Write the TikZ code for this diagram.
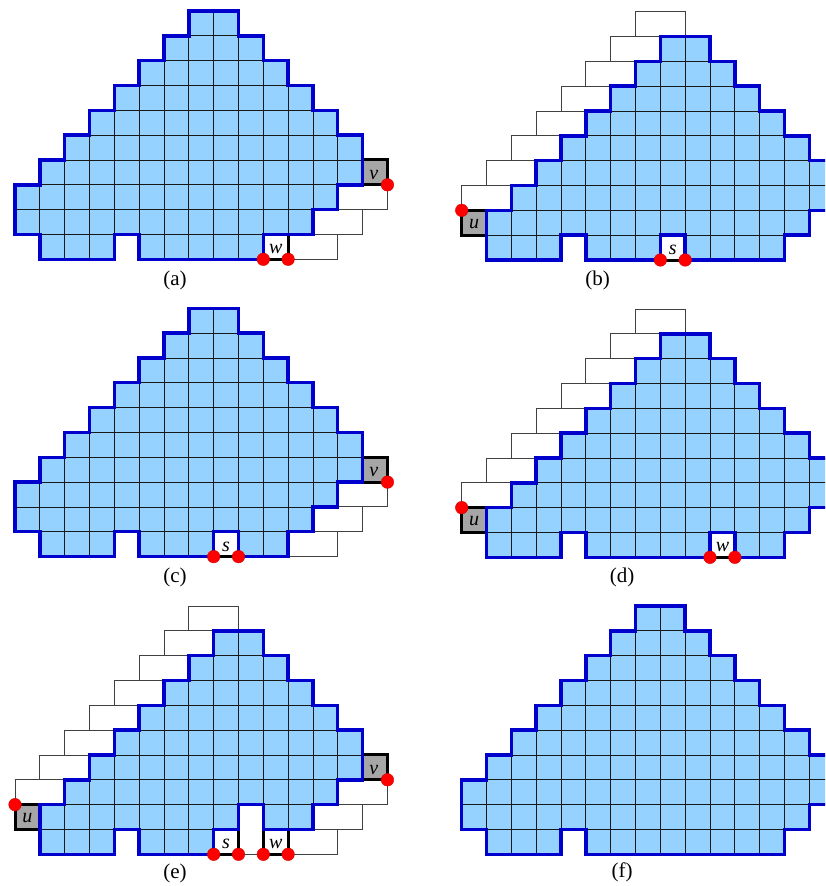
\documentclass[tikz,border=0pt]{standalone}
\usepackage{fontspec}
\setmainfont{Liberation Serif}
\definecolor{lblue}{RGB}{150,210,255}
\definecolor{dblue}{RGB}{0,0,204}
\definecolor{gcell}{RGB}{166,166,166}

% region outlines in grid units (col,row), rows counted downward
\newcommand\regA{(7,0) -- (9,0) -- (9,1) -- (10,1) -- (10,2) -- (11,2) -- (11,3) -- (12,3) -- (12,4) -- (13,4) -- (13,5) -- (14,5) -- (14,7) -- (13,7) -- (13,8) -- (12,8) -- (12,9) -- (10,9) -- (10,10) -- (5,10) -- (5,9) -- (4,9) -- (4,10) -- (1,10) -- (1,9) -- (0,9) -- (0,7) -- (1,7) -- (1,6) -- (2,6) -- (2,5) -- (3,5) -- (3,4) -- (4,4) -- (4,3) -- (5,3) -- (5,2) -- (6,2) -- (6,1) -- (7,1) -- cycle}
\newcommand\regC{(7,0) -- (9,0) -- (9,1) -- (10,1) -- (10,2) -- (11,2) -- (11,3) -- (12,3) -- (12,4) -- (13,4) -- (13,5) -- (14,5) -- (14,7) -- (13,7) -- (13,8) -- (12,8) -- (12,9) -- (11,9) -- (11,10) -- (9,10) -- (9,9) -- (8,9) -- (8,10) -- (5,10) -- (5,9) -- (4,9) -- (4,10) -- (1,10) -- (1,9) -- (0,9) -- (0,7) -- (1,7) -- (1,6) -- (2,6) -- (2,5) -- (3,5) -- (3,4) -- (4,4) -- (4,3) -- (5,3) -- (5,2) -- (6,2) -- (6,1) -- (7,1) -- cycle}
\newcommand\regB{(8,1) -- (10,1) -- (10,2) -- (11,2) -- (11,3) -- (12,3) -- (12,4) -- (13,4) -- (13,5) -- (14,5) -- (14,6) -- (15,6) -- (15,8) -- (14,8) -- (14,9) -- (13,9) -- (13,10) -- (9,10) -- (9,9) -- (8,9) -- (8,10) -- (5,10) -- (5,9) -- (4,9) -- (4,10) -- (1,10) -- (1,8) -- (2,8) -- (2,7) -- (3,7) -- (3,6) -- (4,6) -- (4,5) -- (5,5) -- (5,4) -- (6,4) -- (6,3) -- (7,3) -- (7,2) -- (8,2) -- cycle}
\newcommand\regD{(8,1) -- (10,1) -- (10,2) -- (11,2) -- (11,3) -- (12,3) -- (12,4) -- (13,4) -- (13,5) -- (14,5) -- (14,6) -- (15,6) -- (15,8) -- (14,8) -- (14,9) -- (13,9) -- (13,10) -- (11,10) -- (11,9) -- (10,9) -- (10,10) -- (5,10) -- (5,9) -- (4,9) -- (4,10) -- (1,10) -- (1,8) -- (2,8) -- (2,7) -- (3,7) -- (3,6) -- (4,6) -- (4,5) -- (5,5) -- (5,4) -- (6,4) -- (6,3) -- (7,3) -- (7,2) -- (8,2) -- cycle}
\newcommand\regE{(8,1) -- (10,1) -- (10,2) -- (11,2) -- (11,3) -- (12,3) -- (12,4) -- (13,4) -- (13,5) -- (14,5) -- (14,7) -- (13,7) -- (13,8) -- (12,8) -- (12,9) -- (10,9) -- (10,8) -- (9,8) -- (9,9) -- (8,9) -- (8,10) -- (5,10) -- (5,9) -- (4,9) -- (4,10) -- (1,10) -- (1,8) -- (2,8) -- (2,7) -- (3,7) -- (3,6) -- (4,6) -- (4,5) -- (5,5) -- (5,4) -- (6,4) -- (6,3) -- (7,3) -- (7,2) -- (8,2) -- cycle}
\newcommand\regF{(7,0) -- (9,0) -- (9,1) -- (10,1) -- (10,2) -- (11,2) -- (11,3) -- (12,3) -- (12,4) -- (13,4) -- (13,5) -- (14,5) -- (14,6) -- (15,6) -- (15,8) -- (14,8) -- (14,9) -- (13,9) -- (13,10) -- (5,10) -- (5,9) -- (4,9) -- (4,10) -- (1,10) -- (1,9) -- (0,9) -- (0,7) -- (1,7) -- (1,6) -- (2,6) -- (2,5) -- (3,5) -- (3,4) -- (4,4) -- (4,3) -- (5,3) -- (5,2) -- (6,2) -- (6,1) -- (7,1) -- cycle}

\tikzset{
  gridln/.style={draw=black!90, line width=0.8pt},
  blueln/.style={draw=dblue, line width=3.4pt, line join=miter},
  dom/.style={draw=black!75, line width=0.9pt},
  graybox/.style={fill=gcell, draw=black, line width=3pt},
  whitebox/.style={fill=white, draw=black, line width=3pt},
  rdot/.style={circle, fill=red, draw=red!85!black, line width=0.4pt, inner sep=0pt, minimum size=12.6pt},
  lbl/.style={font=\fontsize{20}{22}\selectfont\itshape, inner sep=0pt},
  captxt/.style={font=\fontsize{21}{24}\selectfont, inner sep=0pt},
  panel/.style={x=24.83pt, y=-24.83pt},
}

\newcommand\basefill[1]{%
  \fill[lblue] #1;
  \begin{scope}
    \clip #1;
    \foreach \i in {0,...,16} {\draw[gridln] (\i,0) -- (\i,10);}
    \foreach \j in {0,...,10} {\draw[gridln] (0,\j) -- (16,\j);}
  \end{scope}}
\newcommand\ulDominoes{\foreach \k in {0,...,7} {\draw[dom] ({7-\k},\k) rectangle ({9-\k},{\k+1});}}
\newcommand\rtDominoes{\draw[dom] (13,7) rectangle (15,8); \draw[dom] (12,8) rectangle (14,9); \draw[dom] (11,9) rectangle (13,10);}

\begin{document}
\begin{tikzpicture}
\useasboundingbox (0pt,0pt) rectangle (825pt,-886pt);
\clip (0pt,0pt) rectangle (825pt,-886pt);

% (a)
\begin{scope}[shift={(15pt,-11pt)}, panel]
  \basefill{\regA}
  \rtDominoes
  \draw[graybox] (14,6) rectangle (15,7);
  \draw[whitebox] (10,9) rectangle (11,10);
  \draw[blueln] \regA;
  \node[lbl] (av) at (14.45,6.6) {v};
  \node[lbl] (aw) at (10.5,9.6) {w};
  \node[rdot] (ad1) at (15,7) {};
  \node[rdot] (ad2) at (10,10) {};
  \node[rdot] (ad3) at (11,10) {};
\end{scope}
\node[captxt] (capa) at (175pt,-280pt) {(a)};

% (b)
\begin{scope}[shift={(461.7pt,-11.7pt)}, panel]
  \basefill{\regB}
  \ulDominoes
  \draw[graybox] (0,8) rectangle (1,9);
  \draw[whitebox] (8,9) rectangle (9,10);
  \draw[blueln] \regB;
  \node[lbl] (bu) at (0.5,8.55) {u};
  \node[lbl] (bs) at (8.5,9.6) {s};
  \node[rdot] (bd1) at (0,8) {};
  \node[rdot] (bd2) at (8,10) {};
  \node[rdot] (bd3) at (9,10) {};
\end{scope}
\node[captxt] (capb) at (597.5pt,-280pt) {(b)};

% (c)
\begin{scope}[shift={(15pt,-308.3pt)}, panel]
  \basefill{\regC}
  \rtDominoes
  \draw[graybox] (14,6) rectangle (15,7);
  \draw[whitebox] (8,9) rectangle (9,10);
  \draw[blueln] \regC;
  \node[lbl] (cv) at (14.45,6.6) {v};
  \node[lbl] (cs) at (8.5,9.6) {s};
  \node[rdot] (cd1) at (15,7) {};
  \node[rdot] (cd2) at (8,10) {};
  \node[rdot] (cd3) at (9,10) {};
\end{scope}
\node[captxt] (capc) at (175pt,-577pt) {(c)};

% (d)
\begin{scope}[shift={(461.7pt,-309pt)}, panel]
  \basefill{\regD}
  \ulDominoes
  \draw[graybox] (0,8) rectangle (1,9);
  \draw[whitebox] (10,9) rectangle (11,10);
  \draw[blueln] \regD;
  \node[lbl] (du) at (0.5,8.55) {u};
  \node[lbl] (dw) at (10.5,9.6) {w};
  \node[rdot] (dd1) at (0,8) {};
  \node[rdot] (dd2) at (10,10) {};
  \node[rdot] (dd3) at (11,10) {};
\end{scope}
\node[captxt] (capd) at (622pt,-577pt) {(d)};

% (e)
\begin{scope}[shift={(15pt,-606pt)}, panel]
  \basefill{\regE}
  \ulDominoes
  \rtDominoes
  \draw[dom] (9,8) rectangle (10,10);
  \draw[graybox] (0,8) rectangle (1,9);
  \draw[graybox] (14,6) rectangle (15,7);
  \draw[whitebox] (8,9) rectangle (9,10);
  \draw[whitebox] (10,9) rectangle (11,10);
  \draw[blueln] \regE;
  \node[lbl] (eu) at (0.5,8.55) {u};
  \node[lbl] (ev) at (14.45,6.6) {v};
  \node[lbl] (es) at (8.5,9.6) {s};
  \node[lbl] (ew) at (10.5,9.6) {w};
  \node[rdot] (ed1) at (0,8) {};
  \node[rdot] (ed2) at (15,7) {};
  \node[rdot] (ed3) at (8,10) {};
  \node[rdot] (ed4) at (9,10) {};
  \node[rdot] (ed5) at (10,10) {};
  \node[rdot] (ed6) at (11,10) {};
\end{scope}
\node[captxt] (cape) at (175pt,-873pt) {(e)};

% (f)
\begin{scope}[shift={(461.7pt,-606pt)}, panel]
  \basefill{\regF}
  \draw[blueln] \regF;
\end{scope}
\node[captxt] (capf) at (622pt,-872pt) {(f)};
\end{tikzpicture}
\end{document}
